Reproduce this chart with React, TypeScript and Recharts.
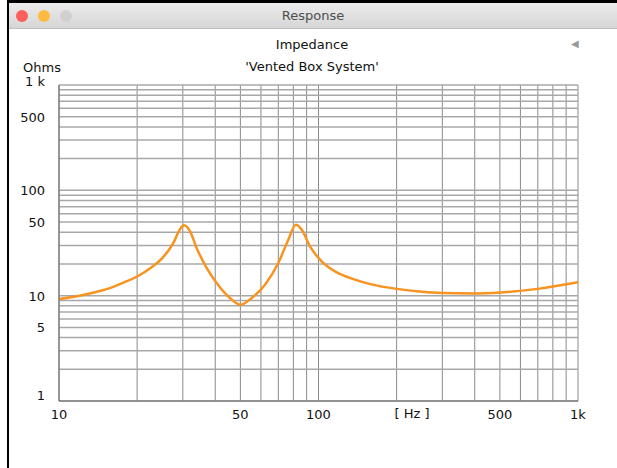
import { LineChart, Line, XAxis, YAxis, CartesianGrid } from "recharts";

// impedance curve (Hz, Ohms)
const FREQ = [10, 12, 14, 16, 18, 20, 22.4, 25.2, 27.6, 29.2, 30.3, 32, 33.9, 37.1, 40.5, 45.6, 50, 55.3, 62.2, 70, 76.5, 81.8, 86.1, 92.7, 102.8, 115.8, 138, 160, 200, 250, 300, 400, 500, 700, 1000];
const OHMS = [9.3, 10, 10.9, 12, 13.5, 15.2, 18.1, 23.2, 31.7, 42.4, 46.6, 40.8, 28.4, 18.3, 13.2, 9.5, 8.2, 9.5, 12.7, 20.4, 34, 47.2, 42.4, 29.4, 21.2, 17, 14.2, 12.8, 11.6, 10.9, 10.6, 10.5, 10.7, 11.6, 13.4];

const X_GRID = [10, 20, 30, 40, 50, 60, 70, 80, 90, 100, 200, 300, 400, 500, 600, 700, 800, 900, 1000];
const Y_GRID = [1, 2, 3, 4, 5, 6, 7, 8, 9, 10, 20, 30, 40, 50, 60, 70, 80, 90, 100, 200, 300, 400, 500, 600, 700, 800, 900, 1000];
const X_LABELS: Record<number, string> = { 10: "10", 50: "50", 100: "100", 500: "500", 1000: "1k" };
const Y_LABELS: Record<number, string> = { 1: "1", 5: "5", 10: "10", 50: "50", 100: "100", 500: "500", 1000: "1 k" };

const data = FREQ.map((f, i) => ({ f, z: OHMS[i] }));

const FONT = "'DejaVu Sans', sans-serif";

function XTick(props: any) {
  const { x, y, payload } = props;
  const t = X_LABELS[payload.value];
  if (!t) return null;
  return (
    <text x={x} y={y + 10} textAnchor="middle" fontSize={13} fontFamily={FONT} fill="#111">
      {t}
    </text>
  );
}

function YTick(props: any) {
  const { x, y, payload } = props;
  const t = Y_LABELS[payload.value];
  if (!t) return null;
  const dy = payload.value === 1 ? -1 : payload.value === 1000 ? 1 : 5;
  return (
    <text x={x - 6} y={y + dy} textAnchor="end" fontSize={13} fontFamily={FONT} fill="#111">
      {t}
    </text>
  );
}

export default function App() {
  return (
    <div style={{ position: "fixed", left: 0, top: 0, width: 617, height: 468, background: "#fff", fontFamily: FONT, overflow: "hidden" }}>
      {/* window frame */}
      <div style={{ position: "absolute", left: 7, top: 0, width: 610, height: 3, background: "#000" }} />
      <div style={{ position: "absolute", left: 7, top: 0, width: 2, height: 468, background: "#000" }} />
      <div
        style={{
          position: "absolute", left: 9, top: 3, width: 608, height: 25,
          background: "linear-gradient(#ececec, #d6d6d6)", borderBottom: "1px solid #bdbdbd",
        }}
      />
      <div style={{ position: "absolute", left: 16, top: 10, width: 12, height: 12, borderRadius: 6, background: "#fc605c" }} />
      <div style={{ position: "absolute", left: 38, top: 10, width: 12, height: 12, borderRadius: 6, background: "#fdbc40" }} />
      <div style={{ position: "absolute", left: 60, top: 10, width: 12, height: 12, borderRadius: 6, background: "#d0d0d0" }} />
      <div style={{ position: "absolute", left: 0, top: 8, width: 626, textAlign: "center", fontSize: 13, color: "#4d4d4d" }}>Response</div>

      {/* titles */}
      <div style={{ position: "absolute", left: 0, top: 37, width: 624, textAlign: "center", fontSize: 13, color: "#111" }}>Impedance</div>
      <div style={{ position: "absolute", left: 0, top: 59, width: 624, textAlign: "center", fontSize: 13, color: "#111" }}>'Vented Box System'</div>
      <div style={{ position: "absolute", left: 23, top: 60, fontSize: 13, color: "#111" }}>Ohms</div>
      <div style={{ position: "absolute", left: 571, top: 38, fontSize: 10, color: "#999" }}>◀</div>
      <div style={{ position: "absolute", left: 388, top: 406, width: 48, textAlign: "center", fontSize: 13, color: "#111" }}>[ Hz ]</div>

      <div style={{ position: "absolute", left: 0, top: 0 }}>
        <LineChart width={617} height={468} data={data} margin={{ top: 85, right: 39, bottom: 37, left: 0 }}>
          <CartesianGrid horizontal={false} stroke="#8a8a8a" strokeWidth={1} />
          <CartesianGrid vertical={false} stroke="#a8a8a8" strokeWidth={1.5} />
          <XAxis
            dataKey="f"
            type="number"
            scale="log"
            domain={[10, 1000]}
            ticks={X_GRID}
            tick={<XTick />}
            tickLine={false}
            axisLine={{ stroke: "#666" }}
            height={30}
            interval={0}
            allowDataOverflow
          />
          <YAxis
            type="number"
            scale="log"
            domain={[1, 1000]}
            ticks={Y_GRID}
            tick={<YTick />}
            tickLine={false}
            axisLine={{ stroke: "#666" }}
            width={59}
            interval={0}
            allowDataOverflow
          />
          <Line
            dataKey="z"
            type="monotone"
            stroke="#f7931e"
            strokeWidth={2.5}
            dot={false}
            isAnimationActive={false}
          />
        </LineChart>
      </div>
    </div>
  );
}
